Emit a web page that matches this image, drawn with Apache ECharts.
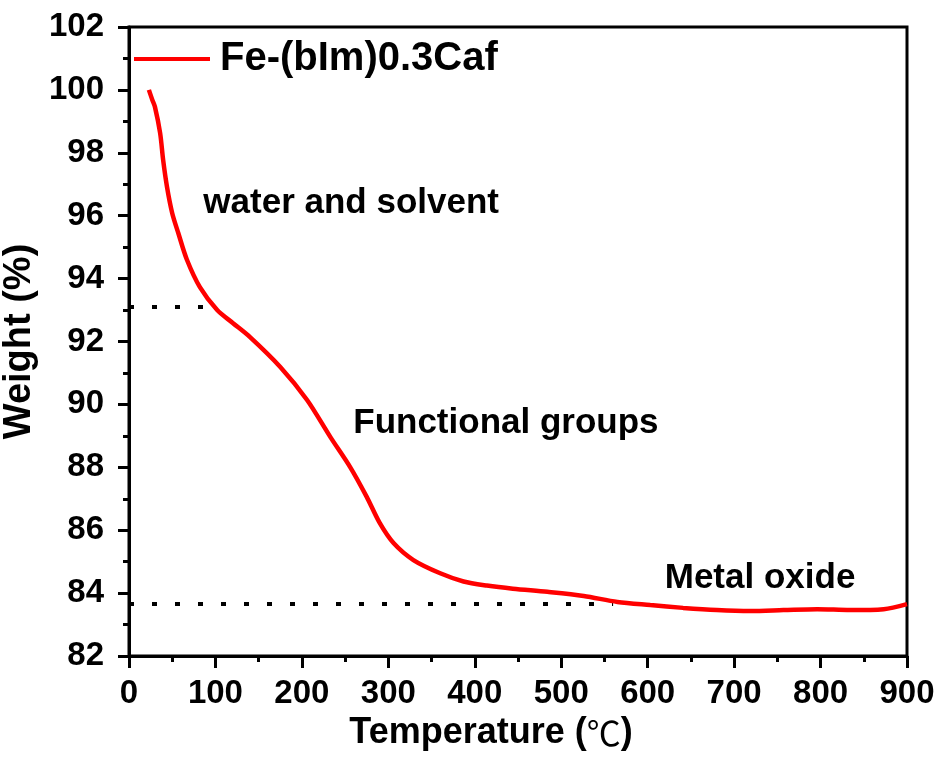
<!DOCTYPE html>
<html>
<head>
<meta charset="utf-8">
<script src="https://cdn.jsdelivr.net/npm/echarts@6/dist/echarts.min.js"></script>
<style>
  html, body { margin: 0; padding: 0; background: #fff; }
  #chart { width: 946px; height: 759px; }
</style>
</head>
<body>
<div id="chart"></div>
<script>
// TGA curve of Fe-(bIm)0.3Caf: temperature (°C) vs remaining weight (%)
const seriesName = 'Fe-(bIm)0.3Caf';
const temperature = [23, 27, 30, 36, 39.5, 44, 50, 57, 67, 82, 102, 120, 140, 175, 206, 233, 256, 275, 290, 306, 329, 360, 387, 414, 444, 484, 526, 565, 603, 641, 680, 719, 757, 796, 834, 873, 900];
const weight = [100, 99.68, 99.46, 98.63, 97.77, 96.91, 96.08, 95.45, 94.6, 93.73, 93.0, 92.59, 92.14, 91.19, 90.14, 88.96, 88.0, 87.06, 86.23, 85.59, 85.05, 84.63, 84.37, 84.24, 84.14, 84.04, 83.91, 83.72, 83.62, 83.53, 83.46, 83.43, 83.46, 83.49, 83.46, 83.49, 83.65];

// Dotted guide lines marking the end of each stage
const solventGuideX = [0, 92];
const solventGuideY = [93.1, 93.1];
const oxideGuideX = [0, 560];
const oxideGuideY = [83.65, 83.65];

// Stage annotations: [label, centre temperature, centre weight]
const stageLabels = [
  ['water and solvent', 257, 96.4],
  ['Functional groups', 436, 89.41],
  ['Metal oxide', 730, 84.48]
];

const FONT = '"Liberation Sans", Arial, sans-serif';

const chart = echarts.init(document.getElementById('chart'), null, { renderer: 'canvas' });

const pairs = (xs, ys) => xs.map((x, i) => [x, ys[i]]);

chart.setOption({
  animation: false,
  backgroundColor: '#fff',
  grid: {
    left: 129, right: 39, top: 27, bottom: 103,
    outerBoundsMode: 'none', containLabel: false,
    show: true, borderColor: '#000', borderWidth: 3
  },
  legend: {
    left: 134, top: 39, padding: 0,
    itemWidth: 76, itemHeight: 4, icon: 'rect',
    data: [seriesName],
    textStyle: { fontFamily: FONT, fontWeight: 'bold', fontSize: 40, color: '#000', padding: [0, 0, 0, 5] }
  },
  xAxis: {
    type: 'value', min: 0, max: 900, interval: 100,
    name: '{a|Temperature (}{b|℃}{a|)}',
    nameLocation: 'middle', nameGap: 56,
    nameTextStyle: {
      padding: [0, 54, 0, 0],
      rich: {
        a: { fontFamily: FONT, fontWeight: 'bold', fontSize: 36, color: '#000' },
        b: { fontFamily: '"Noto Sans CJK SC", serif', fontWeight: 'normal', fontSize: 34, color: '#000' }
      }
    },
    axisLine: { lineStyle: { color: '#000', width: 3 } },
    axisTick: { inside: false, length: 12, lineStyle: { width: 3, color: '#000' } },
    minorTick: { show: true, splitNumber: 2, length: 6, lineStyle: { width: 3, color: '#000' } },
    splitLine: { show: false },
    axisLabel: { margin: 21, fontFamily: FONT, fontWeight: 'bold', fontSize: 33, color: '#000' }
  },
  yAxis: {
    type: 'value', min: 82, max: 102, interval: 2,
    name: 'Weight (%)',
    nameLocation: 'middle', nameGap: 73, nameRotate: 90,
    nameTextStyle: { fontFamily: FONT, fontWeight: 'bold', fontSize: 38, color: '#000' },
    axisLine: { show: true, lineStyle: { color: '#000', width: 3 } },
    axisTick: { inside: false, length: 11, lineStyle: { width: 3, color: '#000' } },
    minorTick: { show: true, splitNumber: 2, length: 6, lineStyle: { width: 3, color: '#000' } },
    splitLine: { show: false },
    axisLabel: { margin: 25, fontFamily: FONT, fontWeight: 'bold', fontSize: 33, color: '#000' }
  },
  series: [
    {
      name: seriesName,
      type: 'line',
      data: pairs(temperature, weight),
      smooth: 0.3,
      symbol: 'none',
      lineStyle: { color: '#ff0000', width: 4.5 },
      itemStyle: { color: '#ff0000' },
      z: 3
    },
    {
      name: 'solvent-guide',
      type: 'line',
      data: pairs(solventGuideX, solventGuideY),
      symbol: 'none', silent: true,
      lineStyle: { color: '#000', width: 4, type: [5, 18] },
      z: 2
    },
    {
      name: 'oxide-guide',
      type: 'line',
      data: pairs(oxideGuideX, oxideGuideY),
      symbol: 'none', silent: true,
      lineStyle: { color: '#000', width: 4, type: [5, 18] },
      z: 2
    },
    {
      name: 'stage-labels',
      type: 'scatter',
      data: stageLabels.map(s => ({ value: [s[1], s[2]], name: s[0] })),
      symbolSize: 0, silent: true,
      itemStyle: { opacity: 1 },
      label: {
        show: true, position: 'inside',
        formatter: p => p.name,
        fontFamily: FONT, fontWeight: 'bold', fontSize: 35, color: '#000'
      },
      z: 4
    }
  ]
});
</script>
</body>
</html>
